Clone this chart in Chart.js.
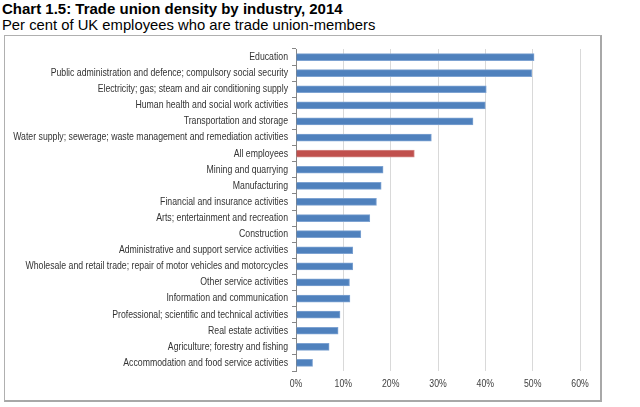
<!DOCTYPE html>
<html><head><meta charset="utf-8">
<script src="https://cdn.jsdelivr.net/npm/chart.js@4"></script>
<style>
html,body{margin:0;padding:0;background:#fff;width:640px;height:407px;overflow:hidden;font-family:"Liberation Sans",Arial,sans-serif;}
#t1{position:absolute;left:2px;top:0px;font-weight:bold;font-size:15px;color:#000;}
#t2{position:absolute;left:2px;top:17px;font-size:14.8px;color:#000;}
#box{position:absolute;left:4px;top:35px;width:595px;height:364px;border:1px solid #b0b0b0;border-right:2px solid #a8a8a8;border-bottom:2px solid #a8a8a8;}
#c{position:absolute;left:0;top:0;}
</style></head><body>
<div id="t1">Chart 1.5: Trade union density by industry, 2014</div>
<div id="t2">Per cent of UK employees who are trade union-members</div>
<div id="box"></div>
<canvas id="c" width="640" height="407"></canvas>
<script>
const categories = [
 "Education",
 "Public administration and defence; compulsory social security",
 "Electricity; gas; steam and air conditioning supply",
 "Human health and social work activities",
 "Transportation and storage",
 "Water supply; sewerage; waste management and remediation activities",
 "All employees",
 "Mining and quarrying",
 "Manufacturing",
 "Financial and insurance activities",
 "Arts; entertainment and recreation",
 "Construction",
 "Administrative and support service activities",
 "Wholesale and retail trade; repair of motor vehicles and motorcycles",
 "Other service activities",
 "Information and communication",
 "Professional; scientific and technical activities",
 "Real estate activities",
 "Agriculture; forestry and fishing",
 "Accommodation and food service activities"
];
const density = [50.3, 49.8, 40.2, 40.0, 37.4, 28.6, 25.0, 18.4, 18.0, 17.0, 15.6, 13.7, 12.0, 12.0, 11.3, 11.4, 9.3, 8.9, 7.0, 3.5];
const xTicks = [0, 10, 20, 30, 40, 50, 60];
const highlight = "All employees";

const colors = categories.map(c => c === highlight ? '#c0504d' : '#4f81bd');
const borders = categories.map(c => c === highlight ? '#d48a88' : '#7ea3d2');

const FONT = '10.5px "Liberation Sans", Arial, sans-serif';
const SX = 0.83;

// Draws the tick labels with a condensed (Calibri-like) width.
const narrowLabels = {
  id: 'narrowLabels',
  afterDraw(chart) {
    const ctx = chart.ctx;
    const y = chart.scales.y, x = chart.scales.x;
    ctx.save();
    ctx.font = FONT;
    ctx.fillStyle = '#333333';
    ctx.textBaseline = 'middle';
    ctx.textAlign = 'right';
    y.ticks.forEach((t, i) => {
      const py = y.getPixelForTick(i);
      const px = y.right - 8;
      ctx.save();
      ctx.translate(px, py);
      ctx.scale(SX, 1);
      ctx.fillText(chart.data.labels[t.value], 0, 0);
      ctx.restore();
    });
    ctx.textAlign = 'center';
    ctx.textBaseline = 'top';
    ctx.fillStyle = '#404040';
    x.ticks.forEach((t, i) => {
      const px = x.getPixelForTick(i);
      ctx.save();
      ctx.translate(px, x.top + 8);
      ctx.scale(SX, 1);
      ctx.fillText(t.value + '%', 0, 0);
      ctx.restore();
    });
    ctx.restore();
  }
};

new Chart(document.getElementById('c'), {
  type: 'bar',
  data: { labels: categories, datasets: [{ data: density, backgroundColor: colors, borderColor: borders, borderWidth: 1, barThickness: 7 }] },
  options: {
    indexAxis: 'y', responsive: false, animation: false,
    layout: { padding: { top: 49, right: 60, bottom: 14, left: 0 } },
    plugins: { legend: { display: false }, tooltip: { enabled: false } },
    scales: {
      x: {
        min: 0, max: 60,
        afterBuildTicks: s => { s.ticks = xTicks.map(v => ({ value: v })); },
        afterFit: s => { s.height = 22; },
        grid: { color: '#d9d9d9', drawTicks: false, lineWidth: 1 },
        border: { display: false },
        ticks: { display: false }
      },
      y: {
        afterFit: s => { s.width = 296; },
        grid: { offset: true, drawOnChartArea: false, color: '#868686', tickLength: 4 },
        border: { display: true, color: '#868686' },
        ticks: { display: false, autoSkip: false }
      }
    }
  },
  plugins: [narrowLabels]
});
</script>
</body></html>
